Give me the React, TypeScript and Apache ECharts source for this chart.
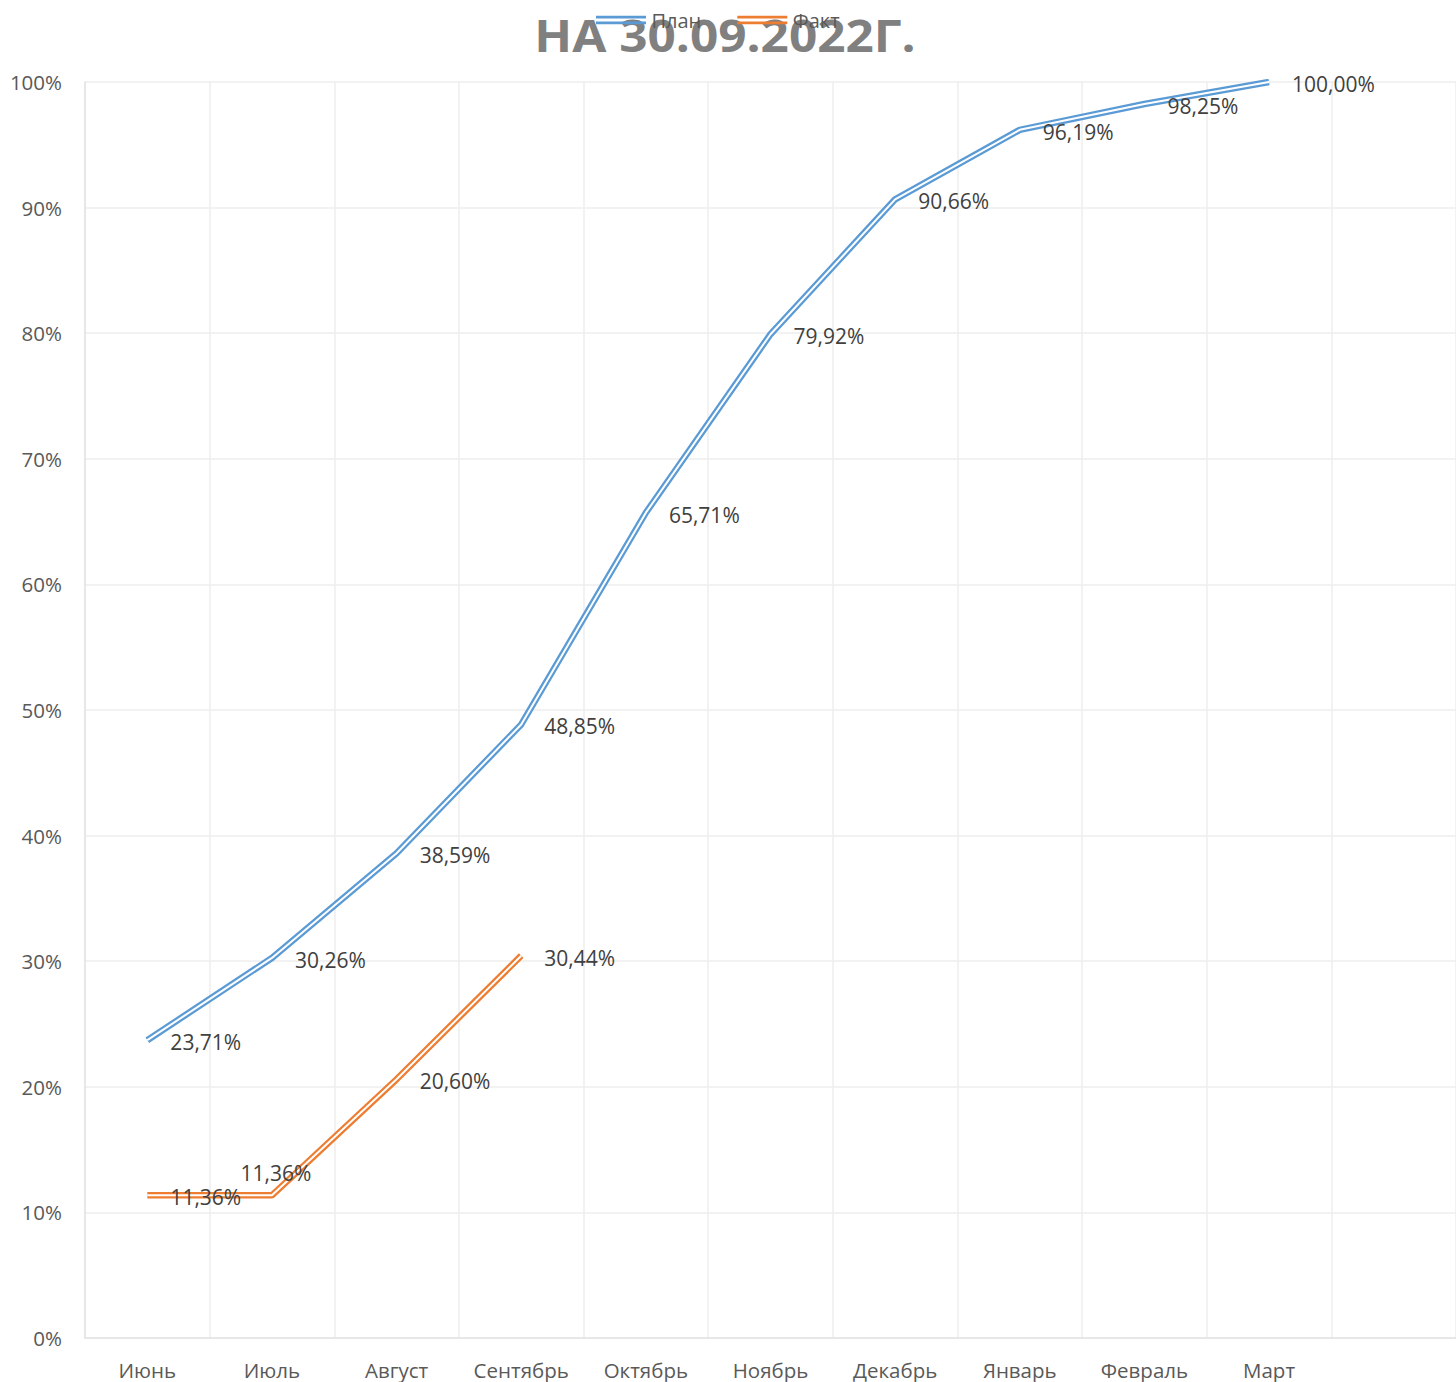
import React, { useEffect, useRef } from "react";
import * as echarts from "echarts";

const categories = ["Июнь", "Июль", "Август", "Сентябрь", "Октябрь", "Ноябрь", "Декабрь", "Январь", "Февраль", "Март", ""];
const planValues = [23.71, 30.26, 38.59, 48.85, 65.71, 79.92, 90.66, 96.19, 98.25, 100.0];
const factValues = [11.36, 11.36, 20.6, 30.44];
const titleText = "НА 30.09.2022Г.";

const BLUE = "#5B9BD5";
const ORANGE = "#ED7D31";
const FONT = "'Open Sans', 'Noto Sans', sans-serif";

const fmt = (v: number) => v.toFixed(2).replace(".", ",") + "%";

export default function App() {
  const ref = useRef<HTMLDivElement>(null);
  useEffect(() => {
    document.body.style.margin = "0";
    const chart = echarts.init(ref.current!, null, { renderer: "svg" });
    const labelBase = {
      show: true,
      position: "right" as const,
      distance: 23,
      offset: [0, 2],
      color: "#404040",
      fontSize: 21,
      fontFamily: FONT,
      formatter: (p: any) => fmt(p.value),
    };
    const factData = factValues.map((v, i) =>
      i === 1 ? { value: v, label: { position: "top", distance: 12, offset: [4, 0] } } : { value: v }
    );
    const icon = "path://M0,0H50V2.7H0Z M0,5.8H50V8.5H0Z";
    chart.setOption({
      animation: false,
      graphic: [
        {
          type: "text",
          x: 725,
          y: 34,
          scaleX: 1.1,
          z: 0,
          style: {
            text: titleText,
            align: "center",
            verticalAlign: "middle",
            fontSize: 45,
            fontWeight: "bold",
            fill: "#808080",
            fontFamily: FONT,
          },
        },
      ],
      legend: {
        data: [
          { name: "План", icon },
          { name: "Факт", icon },
        ],
        left: 591,
        top: 5,
        z: 10,
        itemWidth: 51,
        itemHeight: 8.5,
        itemGap: 36,
        textStyle: { fontSize: 20, color: "#595959", fontFamily: FONT },
      },
      grid: { left: 85, right: -4, top: 82, bottom: 44, containLabel: false },
      xAxis: {
        type: "category",
        data: categories,
        boundaryGap: true,
        axisLine: { lineStyle: { color: "#e3e3e3", width: 1.5 } },
        axisTick: { show: false },
        axisLabel: { fontSize: 20.5, color: "#595959", fontFamily: FONT, margin: 21 },
        splitLine: { show: true, lineStyle: { color: "#eeeeee", width: 1.5 } },
      },
      yAxis: {
        type: "value",
        min: 0,
        max: 100,
        interval: 10,
        axisLine: { show: true, lineStyle: { color: "#e3e3e3", width: 1.5 } },
        axisTick: { show: false },
        axisLabel: { fontSize: 20.5, color: "#595959", fontFamily: FONT, margin: 23, formatter: "{value}%" },
        splitLine: { lineStyle: { color: "#eeeeee", width: 1.5 } },
      },
      series: [
        {
          name: "План",
          type: "line",
          data: planValues,
          color: BLUE,
          symbol: "none",
          lineStyle: { color: BLUE, width: 6.5 },
          z: 2,
        },
        {
          name: "Факт",
          type: "line",
          data: factValues,
          color: ORANGE,
          symbol: "none",
          lineStyle: { color: ORANGE, width: 6.5 },
          z: 2,
        },
        {
          name: "План-inner",
          type: "line",
          data: planValues,
          symbol: "circle",
          symbolSize: 0.1,
          itemStyle: { color: "#ffffff" },
          lineStyle: { color: "#ffffff", width: 2 },
          label: labelBase,
          z: 3,
        },
        {
          name: "Факт-inner",
          type: "line",
          data: factData,
          symbol: "circle",
          symbolSize: 0.1,
          itemStyle: { color: "#ffffff" },
          lineStyle: { color: "#ffffff", width: 2 },
          label: labelBase,
          z: 3,
        },
      ],
    });
    return () => chart.dispose();
  }, []);
  return <div ref={ref} style={{ width: 1456, height: 1382 }} />;
}
